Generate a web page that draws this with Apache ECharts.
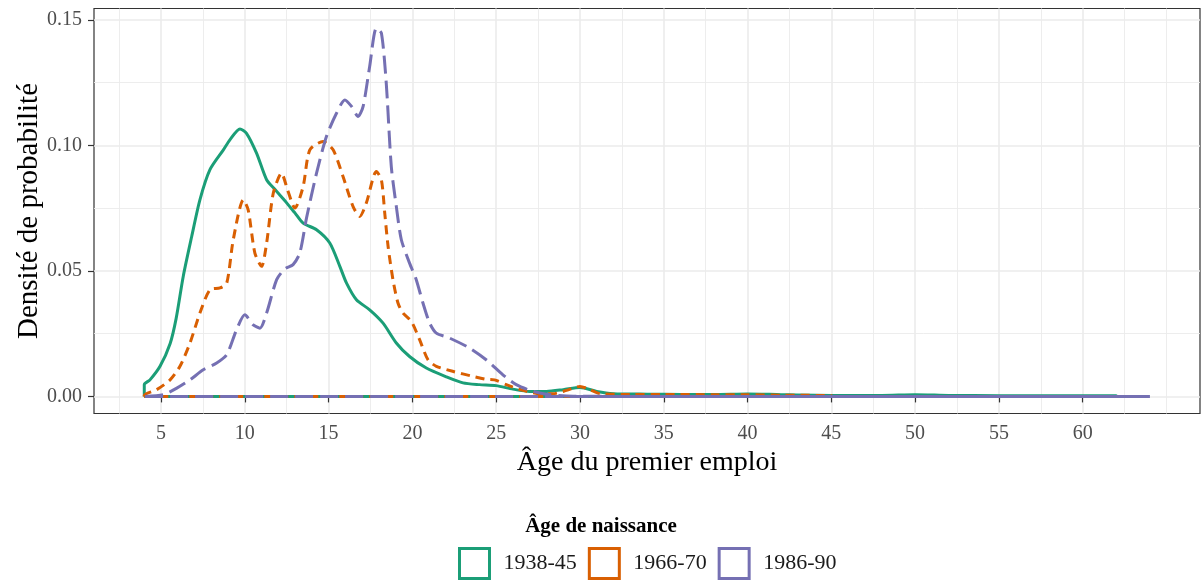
<!DOCTYPE html>
<html>
<head>
<meta charset="utf-8">
<script src="https://cdn.jsdelivr.net/npm/echarts@6/dist/echarts.min.js"></script>
<style>
html,body{margin:0;padding:0;background:#fff;}
#chart{width:1202px;height:584px;}
</style>
</head>
<body>
<div id="chart"></div>
<script>
// ---- data ----
const groupNames = ['1938-45', '1966-70', '1986-90'];
const groupColors = ['#1b9e77', '#d95f02', '#7570b3'];

const greenAge = [4, 4.34, 4.94, 5.54, 5.9, 6.33, 6.83, 7.32, 7.92, 8.72, 9.11, 9.71, 10.1, 10.7, 11.3, 11.79, 12.29, 12.69, 13.0, 13.48, 14.28, 15.07, 15.67, 16.07, 16.66, 17.45, 18.25, 19.04, 19.83, 20.83, 22.03, 23.02, 24.0, 25.0, 26.0, 27.0, 28.0, 29.0, 30.0, 31.0, 32.0, 34, 36, 38, 40, 42, 45, 48, 50, 52, 55, 58, 60, 62];
const greenDensity = [0.0047, 0.0066, 0.012, 0.021, 0.031, 0.048, 0.0637, 0.0783, 0.0903, 0.0982, 0.1022, 0.1065, 0.1048, 0.0969, 0.0863, 0.0825, 0.0787, 0.0755, 0.073, 0.069, 0.0664, 0.0611, 0.0518, 0.0451, 0.0385, 0.0345, 0.0292, 0.0213, 0.0159, 0.0113, 0.0078, 0.0054, 0.0047, 0.0043, 0.0029, 0.002, 0.002, 0.0027, 0.0036, 0.002, 0.0011, 0.0009, 0.0008, 0.0008, 0.001, 0.0007, 0.0004, 0.0004, 0.0007, 0.0004, 0.0003, 0.0003, 0.0003, 0.0003];

const orangeAge = [4, 4.74, 5.54, 6.13, 6.73, 7.32, 7.92, 8.52, 8.92, 9.31, 9.91, 10.2, 10.6, 11.0, 11.3, 11.7, 12.19, 12.55, 12.99, 13.48, 13.88, 14.67, 15.27, 15.86, 16.46, 16.86, 17.25, 17.85, 18.15, 18.35, 18.55, 18.84, 19.14, 19.44, 19.94, 20.43, 20.93, 21.43, 22.4, 23.6, 24.4, 24.9, 25.6, 26.6, 27.6, 28.4, 29.2, 30.0, 30.6, 31.2, 33, 35, 38, 40, 42, 45];
const orangeDensity = [0.0005, 0.0027, 0.0066, 0.012, 0.0213, 0.0332, 0.0425, 0.0432, 0.0451, 0.0624, 0.0783, 0.0743, 0.0571, 0.0518, 0.0610, 0.081, 0.0889, 0.0823, 0.075, 0.0836, 0.0982, 0.1015, 0.0982, 0.0876, 0.0756, 0.0717, 0.077, 0.0896, 0.0863, 0.073, 0.0597, 0.0465, 0.0372, 0.0332, 0.0299, 0.0226, 0.0146, 0.012, 0.010, 0.008, 0.0068, 0.0066, 0.0047, 0.0024, 0.0011, 0.0011, 0.0024, 0.004, 0.0027, 0.0011, 0.0008, 0.0008, 0.0007, 0.0007, 0.0005, 0.0003];

const purpleAge = [4.05, 5.14, 5.94, 6.73, 7.52, 8.32, 8.92, 9.51, 10.0, 10.5, 10.9, 11.3, 11.9, 12.39, 12.88, 13.28, 13.68, 14.28, 14.87, 15.47, 15.97, 16.37, 16.76, 17.06, 17.45, 17.85, 18.15, 18.44, 18.74, 19.04, 19.34, 19.83, 20.23, 20.63, 21.03, 21.43, 22.2, 23.4, 24.4, 25.4, 26.2, 27.2, 28.2, 29.2, 30, 32, 35, 40, 45, 50, 55, 60, 64];
const purpleDensity = [0, 0.0007, 0.0033, 0.0066, 0.0106, 0.0133, 0.0166, 0.0266, 0.0325, 0.0285, 0.0272, 0.0332, 0.0465, 0.0508, 0.0525, 0.0571, 0.0710, 0.0889, 0.1035, 0.1128, 0.1181, 0.1155, 0.1115, 0.1155, 0.1314, 0.1467, 0.1447, 0.1248, 0.0916, 0.0757, 0.0624, 0.0531, 0.0465, 0.0372, 0.0292, 0.0252, 0.0233, 0.0193, 0.0146, 0.0086, 0.0047, 0.002, 0.0007, 0.0002, 0.0001, 0, 0, 0, 0, 0, 0, 0, 0];

const xMajorTicks = [5, 10, 15, 20, 25, 30, 35, 40, 45, 50, 55, 60];
const xMinorTicks = [2.5, 7.5, 12.5, 17.5, 22.5, 27.5, 32.5, 37.5, 42.5, 47.5, 52.5, 57.5, 62.5, 65];
const yMajorTicks = [0, 0.05, 0.10, 0.15];
const yMinorTicks = [0.025, 0.075, 0.125];

// ---- build ----
const FONT = '"Liberation Serif", "DejaVu Serif", serif';
const ages = [greenAge, orangeAge, purpleAge];
const dens = [greenDensity, orangeDensity, purpleDensity];
const dashes = ['solid', [9, 6], [18, 7]];
const LW = 3;

const series = [];
groupNames.forEach((name, i) => {
  const a = ages[i], d = dens[i];
  const curve = [[a[0], 0]].concat(a.map((x, k) => [x, d[k]])).concat([[a[a.length - 1], 0]]);
  series.push({
    name: name, type: 'line', data: curve, showSymbol: false, symbol: 'none',
    smooth: 0.25, xAxisIndex: 0, yAxisIndex: 0, silent: true,
    lineStyle: { color: groupColors[i], width: LW, type: dashes[i], cap: 'butt', join: 'round' },
    itemStyle: { color: groupColors[i] }, z: 3 + i
  });
  series.push({
    name: name + '_base', type: 'line', data: [[a[0], 0], [a[a.length - 1], 0]],
    showSymbol: false, symbol: 'none', xAxisIndex: 0, yAxisIndex: 0, silent: true,
    lineStyle: { color: groupColors[i], width: LW, type: dashes[i], cap: 'butt' }, z: 3 + i
  });
});

const chart = echarts.init(document.getElementById('chart'), null, { renderer: 'canvas' });
chart.setOption({
  animation: false,
  backgroundColor: '#ffffff',
  title: {
    text: 'Âge de naissance', left: 'center', top: 511,
    textStyle: { fontFamily: FONT, fontSize: 21, fontWeight: 'bold', color: '#000' }
  },
  legend: {
    top: 542, left: 453, itemWidth: 30, itemHeight: 30, itemGap: 11,
    icon: 'rect',
    data: groupNames.map((n, i) => ({
      name: n, icon: 'rect',
      itemStyle: { color: '#ffffff', borderColor: groupColors[i], borderWidth: 3 }
    })),
    textStyle: { fontFamily: FONT, fontSize: 22, color: '#1a1a1a', padding: [0, 0, 0, 9] }
  },
  grid: {
    left: 94, right: 2, top: 8.5, bottom: 170.5,
    show: true, borderColor: '#333333', borderWidth: 1.2, backgroundColor: 'transparent',
    containLabel: false
  },
  xAxis: [
    {
      type: 'value', min: 1, max: 67, gridIndex: 0,
      name: 'Âge du premier emploi', nameLocation: 'middle', nameGap: 35, nameMoveOverlap: false,
      nameTextStyle: { fontFamily: FONT, fontSize: 28, color: '#000' },
      axisLine: { show: false },
      axisTick: { show: true, length: 6, customValues: xMajorTicks, lineStyle: { color: '#333333', width: 1.2 } },
      axisLabel: { customValues: xMajorTicks, fontFamily: FONT, fontSize: 20, color: '#4d4d4d', margin: 10 },
      splitLine: { show: true, lineStyle: { color: '#ebebeb', width: 1.6 } },
      z: 1
    },
    {
      type: 'value', min: 1, max: 67, gridIndex: 0, position: 'bottom',
      axisLine: { show: false },
      axisTick: { show: false, customValues: xMinorTicks },
      axisLabel: { show: false },
      splitLine: { show: true, lineStyle: { color: '#ebebeb', width: 0.9 } },
      z: 0
    }
  ],
  yAxis: [
    {
      type: 'value', min: -0.0068, max: 0.1545, gridIndex: 0,
      name: 'Densité de probabilité', nameLocation: 'middle', nameGap: 50, nameRotate: 90, nameMoveOverlap: false,
      nameTextStyle: { fontFamily: FONT, fontSize: 29, color: '#000' },
      axisLine: { show: false },
      axisTick: { show: true, length: 6, customValues: yMajorTicks, lineStyle: { color: '#333333', width: 1.2 } },
      axisLabel: { customValues: yMajorTicks, fontFamily: FONT, fontSize: 20, color: '#4d4d4d', margin: 12,
        formatter: v => v.toFixed(2) },
      splitLine: { show: true, lineStyle: { color: '#ebebeb', width: 1.6 } },
      z: 1
    },
    {
      type: 'value', min: -0.0068, max: 0.1545, gridIndex: 0, position: 'left',
      axisLine: { show: false },
      axisTick: { show: false, customValues: yMinorTicks },
      axisLabel: { show: false },
      splitLine: { show: true, lineStyle: { color: '#ebebeb', width: 0.9 } },
      z: 0
    }
  ],
  series: series
});
</script>
</body>
</html>
